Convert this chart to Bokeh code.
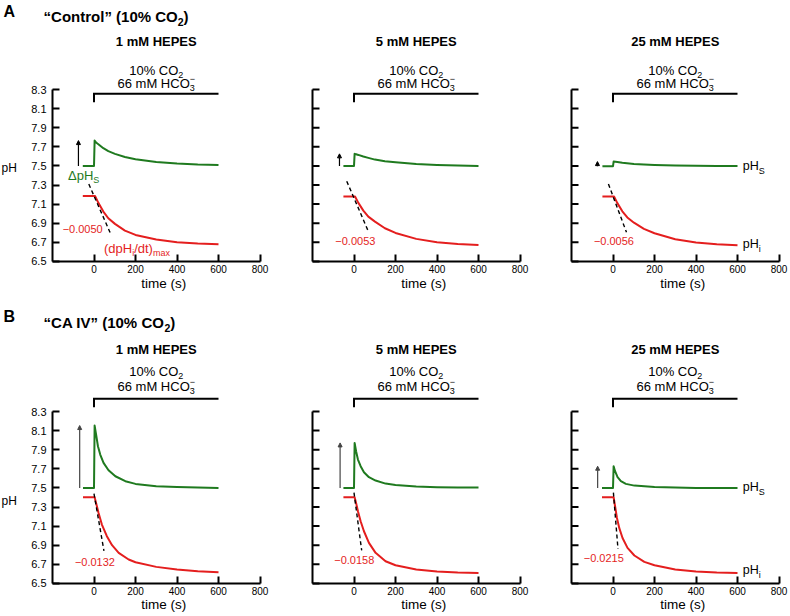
from bokeh.plotting import figure
from bokeh.layouts import row, column
from bokeh.models import Range1d, FixedTicker, BasicTickFormatter, Arrow, NormalHead
from bokeh.core.properties import value
from bokeh.embed import file_html
from bokeh.resources import INLINE

# ---------------- data ----------------
x_ticks = [0, 200, 400, 600, 800]
y_ticks = [6.5, 6.7, 6.9, 7.1, 7.3, 7.5, 7.7, 7.9, 8.1, 8.3]
row_titles = ["\u201cControl\u201d (10% CO", "\u201cCA IV\u201d (10% CO"]
row_letters = ["A", "B"]
hepes_labels = ["1 mM HEPES", "5 mM HEPES", "25 mM HEPES"]
slope_labels = ["\u22120.0050", "\u22120.0053", "\u22120.0056",
                "\u22120.0132", "\u22120.0158", "\u22120.0215"]
bracket_t = [0, 0, 600]
bracket_A = [8.167, 8.255, 8.255]
bracket_B = [8.345, 8.433, 8.433]

# Row A (Control) -- pHs (green) and pHi (red)
time_A1_s = [-54, 0, 3, 10, 21, 45, 69, 101, 149, 200, 300, 400, 500, 600]
pHs_A1 = [7.50, 7.50, 7.765, 7.745, 7.727, 7.685, 7.654, 7.626, 7.594, 7.570, 7.542, 7.524, 7.514, 7.510]
time_A1_i = [-54, 5, 21, 45, 69, 101, 149, 200, 300, 400, 500, 600]
pHi_A1 = [7.186, 7.186, 7.113, 7.022, 6.952, 6.893, 6.823, 6.777, 6.729, 6.700, 6.687, 6.680]
tan_A1_t = [-25, 78]
tan_A1_pH = [7.31, 6.80]

time_A2_s = [-51, 0, 3, 10, 21, 45, 69, 101, 149, 200, 300, 400, 500, 600]
pHs_A2 = [7.50, 7.50, 7.626, 7.622, 7.615, 7.598, 7.584, 7.566, 7.549, 7.538, 7.521, 7.510, 7.503, 7.500]
time_A2_i = [-51, 5, 21, 45, 69, 101, 149, 200, 300, 400, 500, 600]
pHi_A2 = [7.179, 7.179, 7.113, 7.032, 6.969, 6.917, 6.847, 6.798, 6.736, 6.700, 6.683, 6.673]
tan_A2_t = [-35, 70]
tan_A2_pH = [7.34, 6.81]

time_A3_s = [-51, 0, 3, 21, 45, 101, 149, 200, 300, 400, 500, 600]
pHs_A3 = [7.497, 7.497, 7.545, 7.540, 7.532, 7.520, 7.514, 7.510, 7.505, 7.502, 7.500, 7.500]
time_A3_i = [-51, 5, 21, 45, 69, 101, 149, 200, 300, 400, 500, 600]
pHi_A3 = [7.180, 7.180, 7.110, 7.025, 6.960, 6.905, 6.840, 6.795, 6.732, 6.697, 6.680, 6.670]
tan_A3_t = [-22, 65]
tan_A3_pH = [7.31, 6.805]

# Row B (CA IV)
time_B1_s = [-53, 0, 3, 10, 19, 30, 46, 70, 103, 151, 200, 300, 400, 500, 600]
pHs_B1 = [7.50, 7.50, 8.153, 8.060, 7.936, 7.849, 7.762, 7.685, 7.622, 7.570, 7.542, 7.517, 7.510, 7.503, 7.500]
time_B1_i = [-53, 3, 10, 22, 38, 62, 87, 119, 167, 200, 300, 400, 500, 600]
pHi_B1 = [7.402, 7.402, 7.343, 7.238, 7.116, 6.994, 6.900, 6.820, 6.750, 6.722, 6.673, 6.645, 6.627, 6.617]
tan_B1_t = [0, 48]
tan_B1_pH = [7.44, 6.84]

time_B2_s = [-51, 0, 3, 10, 19, 32, 48, 72, 104, 152, 200, 300, 400, 500, 600]
pHs_B2 = [7.50, 7.50, 7.971, 7.884, 7.797, 7.727, 7.664, 7.612, 7.577, 7.545, 7.531, 7.514, 7.507, 7.503, 7.503]
time_B2_i = [-51, 3, 10, 19, 32, 48, 72, 104, 152, 200, 300, 400, 500, 600]
pHi_B2 = [7.402, 7.402, 7.343, 7.256, 7.151, 7.046, 6.924, 6.820, 6.732, 6.690, 6.645, 6.624, 6.613, 6.610]
tan_B2_t = [0, 37]
tan_B2_pH = [7.45, 6.845]

time_B3_s = [-53, 0, 3, 10, 22, 38, 62, 103, 200, 300, 400, 500, 600]
pHs_B3 = [7.50, 7.50, 7.727, 7.675, 7.612, 7.570, 7.542, 7.524, 7.510, 7.503, 7.500, 7.500, 7.500]
time_B3_i = [-53, 3, 10, 19, 30, 46, 70, 103, 151, 200, 300, 400, 500, 600]
pHi_B3 = [7.402, 7.402, 7.308, 7.186, 7.081, 6.976, 6.872, 6.792, 6.725, 6.690, 6.645, 6.624, 6.613, 6.610]
tan_B3_t = [2, 24]
tan_B3_pH = [7.45, 6.86]

# ---------------- styling / layout ----------------
FONT = "Liberation Sans"
GREEN = "#1f7a1f"
RED = "#e41e1e"
PX_S = 0.2075      # px per second
PX_PH = 95.5       # px per pH unit
COL_LEFT = [0, 282, 541]
COL_AXIS = [52, 312, 571]
COL_W = [282, 259, 247]
ROW_TOP = [0, 298]
ROW_H = [298, 316]
ROW_83 = [89, 411]
TICK_LEN = 7

REG_W = {' ': 278, '%': 889, '(': 333, ')': 333, '.': 278, '/': 278, 'A': 667, 'B': 667,
         'C': 722, 'E': 667, 'H': 722, 'I': 278, 'M': 833, 'O': 778, 'P': 667, 'S': 667,
         'V': 667, 'a': 556, 'd': 556, 'e': 556, 'i': 222, 'l': 222, 'm': 833, 'n': 556,
         'o': 556, 'p': 556, 'r': 333, 's': 500, 't': 278, 'x': 500, '\u201c': 333,
         '\u201d': 333, '\u2212': 584, '\u0394': 668}
BOLD_W = {' ': 278, '%': 889, '(': 333, ')': 333, 'A': 722, 'B': 722, 'C': 722, 'E': 667,
          'H': 722, 'I': 278, 'M': 833, 'O': 778, 'P': 667, 'S': 667, 'V': 667, 'm': 889,
          'n': 611, 'o': 611, 'r': 389, 't': 333, 'l': 278, '\u201c': 500, '\u201d': 500}


def tw(s, size, bold):
    tbl = BOLD_W if bold else REG_W
    return sum(tbl.get(ch, 556) for ch in s) * size / 1000.0


def rich(p, x, yc, groups, size, align="left", bold=False, color="black"):
    """groups: list of lists of (text, font_px, baseline_rise_px); drawn left to right."""
    widths = [max(tw(t, s, bold) for t, s, r in g) for g in groups]
    total = sum(widths)
    cur = {"left": 0.0, "center": -total / 2.0, "right": -total}[align]
    for g, w in zip(groups, widths):
        for t, s, r in g:
            yy = yc + (r - 0.3465 * (size - s)) / PX_PH
            p.text(x=[x], y=[yy], text=[t], x_offset=cur,
                   text_font=value(FONT), text_font_size=f"{s}px",
                   text_font_style="bold" if bold else "normal",
                   text_color=color, text_align="left", text_baseline="middle")
        cur += w


def make_fig(r, c):
    xs = -200 - (COL_AXIS[c] - COL_LEFT[c]) / PX_S
    xe = xs + COL_W[c] / PX_S
    ye = 8.3 + (ROW_83[r] - ROW_TOP[r]) / PX_PH
    ys = ye - ROW_H[r] / PX_PH
    p = figure(width=COL_W[c], height=ROW_H[r], x_range=Range1d(xs, xe),
               y_range=Range1d(ys, ye), output_backend="svg", toolbar_location=None,
               min_border=0, min_border_left=0, min_border_right=0,
               min_border_top=0, min_border_bottom=0)
    p.outline_line_color = None
    p.grid.visible = False
    xa = p.xaxis[0]
    ya = p.yaxis[0]
    xa.fixed_location = 6.5
    ya.fixed_location = -200
    xa.bounds = (-200, 800)
    ya.bounds = (6.5, 8.3)
    xa.ticker = FixedTicker(ticks=x_ticks)
    if c == 0:
        ya.ticker = FixedTicker(ticks=y_ticks)
        ya.formatter = BasicTickFormatter(precision=1)
    else:
        ya.ticker = FixedTicker(ticks=[])
        # inward tick marks only (no labels on the inner panels)
        n = len(y_ticks)
        p.segment(x0=[-200] * n, y0=y_ticks, x1=[-200 + TICK_LEN / PX_S] * n, y1=y_ticks,
                  line_color="black", line_width=2)
    for ax in (xa, ya):
        ax.axis_line_width = 2
        ax.axis_line_color = "black"
        ax.major_tick_line_width = 2
        ax.major_tick_in = TICK_LEN
        ax.major_tick_out = 0
        ax.minor_tick_in = 0
        ax.minor_tick_out = 0
        ax.major_label_text_font = FONT
        ax.major_label_text_color = "black"
    xa.major_label_text_font_size = "10px"
    xa.major_label_standoff = 4
    ya.major_label_text_font_size = "11px"
    ya.major_label_standoff = 6
    return p


panels = [
    (0, 0, time_A1_s, pHs_A1, time_A1_i, pHi_A1, tan_A1_t, tan_A1_pH, -75, (42, 6.84)),
    (0, 1, time_A2_s, pHs_A2, time_A2_i, pHi_A2, tan_A2_t, tan_A2_pH, -70, (103, 6.711)),
    (0, 2, time_A3_s, pHs_A3, time_A3_i, pHi_A3, tan_A3_t, tan_A3_pH, -75, (101, 6.711)),
    (1, 0, time_B1_s, pHs_B1, time_B1_i, pHi_B1, tan_B1_t, tan_B1_pH, -69, (101, 6.722)),
    (1, 1, time_B2_s, pHs_B2, time_B2_i, pHi_B2, tan_B2_t, tan_B2_pH, -67, (98, 6.74)),
    (1, 2, time_B3_s, pHs_B3, time_B3_i, pHi_B3, tan_B3_t, tan_B3_pH, -74, (52, 6.768)),
]

# text centre levels (pH units) per row
Y_HEPES = [8.803, 8.944]
Y_CO2 = [8.504, 8.719]
Y_HCO3 = [8.366, 8.567]
Y_LETTER = [9.112, 9.295]
Y_ROWTITLE = [9.066, 9.232]
Y_PHLABEL = [7.473, 7.358]
Y_TIME = [6.269, 6.279]
Y_PHS_LBL = [7.497, 7.507]
Y_PHI_LBL = [6.684, 6.642]

figs = {}
for k, (r, c, ts, vs, ti, vi, tt, tv, arrow_t, slope_pos) in enumerate(panels):
    p = make_fig(r, c)
    figs[(r, c)] = p
    # bracket (CO2 / HCO3- application)
    p.line(bracket_t, bracket_A if r == 0 else bracket_B, line_color="black",
           line_width=2, line_join="miter")
    # curves
    p.line(ts, vs, line_color=GREEN, line_width=2, line_join="round")
    p.line(ti, vi, line_color=RED, line_width=2, line_join="round")
    # tangent (max rate of pHi change)
    p.line(tt, tv, line_color="black", line_width=1.4, line_dash="4 3")
    # delta pHs arrow
    acol = "black" if r == 0 else "#444444"
    p.add_layout(Arrow(end=NormalHead(size=4, fill_color=acol, line_color=acol, line_width=1),
                       x_start=arrow_t, y_start=vs[0], x_end=arrow_t, y_end=max(vs),
                       line_color=acol, line_width=1.2))
    # slope value
    rich(p, slope_pos[0], slope_pos[1], [[(slope_labels[k], 11, 0)]], 11,
         align="right", color=RED)
    # panel titles
    rich(p, 300, Y_HEPES[r], [[(hepes_labels[c], 13, 0)]], 13, align="center", bold=True)
    rich(p, 300, Y_CO2[r], [[("10% CO", 13, 0)], [("2", 9, -3.5)]], 13, align="center")
    rich(p, 300, Y_HCO3[r], [[("66 mM HCO", 13, 0)], [("3", 9, -3.5), ("\u2212", 9, 5.5)]],
         13, align="center")
    rich(p, 336, Y_TIME[r], [[("time (s)", 13.5, 0)]], 13.5, align="center")
    if c == 0:
        x0 = p.x_range.start
        rich(p, x0 + 3 / PX_S, Y_LETTER[r], [[(row_letters[r], 16, 0)]], 16, bold=True)
        rich(p, -243, Y_ROWTITLE[r],
             [[(row_titles[r], 15, 0)], [("2", 10.5, -4)], [(")", 15, 0)]], 15, bold=True)
        rich(p, x0 + 1 / PX_S, Y_PHLABEL[r], [[("pH", 12, 0)]], 12)
    if c == 2:
        rich(p, 625, Y_PHS_LBL[r], [[("pH", 12.5, 0)], [("S", 9, -3.5)]], 12.5)
        rich(p, 625, Y_PHI_LBL[r], [[("pH", 12.5, 0)], [("i", 9, -3.5)]], 12.5)
    if r == 0 and c == 0:
        rich(p, -125, 7.40, [[("\u0394pH", 13, 0)], [("S", 9, -3.5)]], 13, color=GREEN)
        rich(p, 48, 6.635, [[("(dpH", 13, 0)], [("i", 9, -3.5)], [("/dt)", 13, 0)],
                            [("max", 9, -3.5)]], 13, color=RED)

layout = column(row(figs[(0, 0)], figs[(0, 1)], figs[(0, 2)]),
                row(figs[(1, 0)], figs[(1, 1)], figs[(1, 2)]))

open("out.html", "w").write(file_html(layout, INLINE))
